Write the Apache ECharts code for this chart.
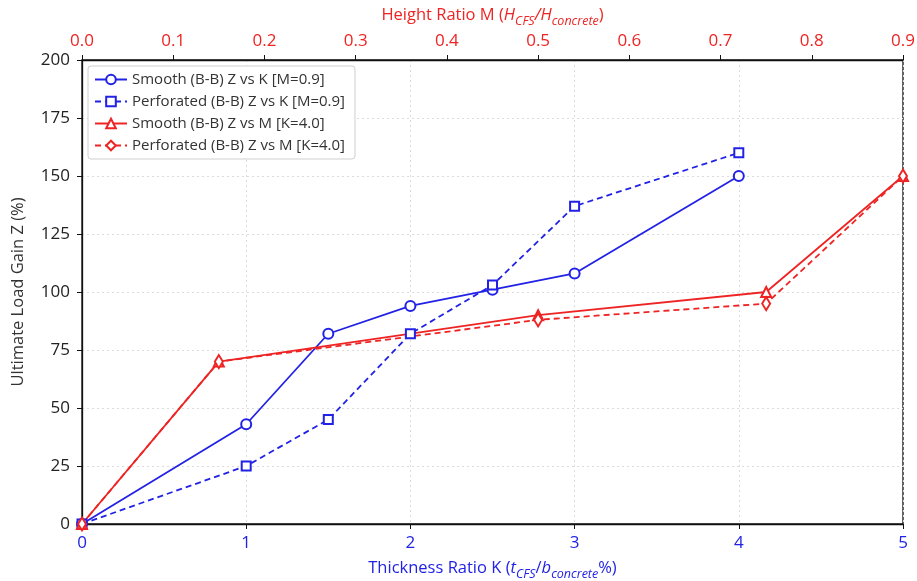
<!DOCTYPE html>
<html>
<head>
<meta charset="utf-8">
<script src="https://cdn.jsdelivr.net/npm/echarts@6/dist/echarts.min.js"></script>
<style>
  html, body { margin: 0; padding: 0; background: #fff; }
  #chart { width: 917px; height: 581px; }
</style>
</head>
<body>
<div id="chart"></div>
<script>
// K 轴（底部）数据
const kValues = [0, 1, 1.5, 2, 2.5, 3, 4];
const smoothZvsK = [0, 43, 82, 94, 101, 108, 150];
const perfZvsK = [0, 25, 45, 82, 103, 137, 160];

// M 轴（顶部）数据
const mValues = [0, 0.15, 0.5, 0.75, 0.9];
const smoothZvsM = [0, 70, 90, 100, 150];
const perfZvsM = [0, 70, 88, 95, 150];

const seriesNames = [
  'Smooth (B-B) Z vs K [M=0.9]',
  'Perforated (B-B) Z vs K [M=0.9]',
  'Smooth (B-B) Z vs M [K=4.0]',
  'Perforated (B-B) Z vs M [K=4.0]'
];

const BLUE = '#2222e6';
const RED = '#ee2424';
const FONT = 'Open Sans';

const pair = (xs, ys) => xs.map((x, i) => [x, ys[i]]);

const chart = echarts.init(document.getElementById('chart'));

// 轴名称里的下标用富文本
const subStyle = (color) => ({
  n: { color: color, fontSize: 16.5, fontFamily: FONT, lineHeight: 22, verticalAlign: 'bottom' },
  i: { color: color, fontSize: 16.5, fontFamily: FONT, fontStyle: 'italic', lineHeight: 22, verticalAlign: 'bottom' },
  s: { color: color, fontSize: 12.5, fontFamily: FONT, fontStyle: 'italic', lineHeight: 22, verticalAlign: 'bottom', padding: [0, 0, -4, 0] }
});

const option = {
  animation: false,
  backgroundColor: '#fff',
  textStyle: { fontFamily: FONT },
  grid: {
    left: 82, right: 14, top: 60, bottom: 57,
    outerBoundsMode: 'none',
    containLabel: false,
    show: true, borderColor: '#111', borderWidth: 1.3, backgroundColor: 'transparent'
  },
  legend: {
    left: 88, top: 66,
    orient: 'vertical',
    itemWidth: 32, itemHeight: 12, itemGap: 7,
    padding: [6, 10, 6, 6],
    borderColor: '#cfcfcf', borderWidth: 1, borderRadius: 3,
    backgroundColor: 'rgba(255,255,255,0.9)',
    textStyle: { fontSize: 15, color: '#333', fontFamily: FONT },
    data: seriesNames
  },
  xAxis: [
    {
      type: 'value', position: 'bottom', min: 0, max: 5, interval: 1,
      name: '{n|Thickness Ratio K (}{i|t}{s|CFS}{n|/}{i|b}{s|concrete}{n|%)}',
      nameLocation: 'middle', nameGap: 31,
      nameTextStyle: { rich: subStyle(BLUE) },
      axisLine: { show: true, lineStyle: { color: '#111', width: 1.3 } },
      axisTick: { show: true, inside: false, length: 5, lineStyle: { color: '#111' } },
      axisLabel: { color: BLUE, fontSize: 17, margin: 11, fontFamily: FONT },
      splitLine: { show: true, lineStyle: { color: '#dcdcdc', type: [2, 3], width: 1 } }
    },
    {
      type: 'value', position: 'top', min: 0, max: 0.9, interval: 0.1,
      name: '{n|Height Ratio M (}{i|H}{s|CFS}{i|/H}{s|concrete}{n|)}',
      nameLocation: 'middle', nameGap: 35,
      nameTextStyle: { rich: subStyle(RED) },
      axisLine: { show: true, lineStyle: { color: '#111', width: 1.3 } },
      axisTick: { show: true, inside: false, length: 5, lineStyle: { color: '#111' } },
      axisLabel: { color: RED, fontSize: 17, margin: 10, fontFamily: FONT, formatter: (v) => v.toFixed(1) },
      splitLine: { show: false }
    }
  ],
  yAxis: {
    type: 'value', min: 0, max: 200, interval: 25,
    name: 'Ultimate Load Gain Z (%)',
    nameLocation: 'middle', nameGap: 55,
    nameTextStyle: { color: '#333', fontSize: 16.5, fontFamily: FONT },
    axisLine: { show: true, lineStyle: { color: '#111', width: 1.3 } },
    axisTick: { show: true, inside: false, length: 5, lineStyle: { color: '#111' } },
    axisLabel: { color: '#222', fontSize: 17, margin: 12, fontFamily: FONT },
    splitLine: { show: true, lineStyle: { color: '#dcdcdc', type: [2, 3], width: 1 } }
  },
  series: [
    {
      name: seriesNames[0], type: 'line', xAxisIndex: 0,
      data: pair(kValues, smoothZvsK),
      symbol: 'emptyCircle', symbolSize: 10,
      lineStyle: { color: BLUE, width: 1.8 },
      itemStyle: { color: BLUE, borderWidth: 1.4 }
    },
    {
      name: seriesNames[1], type: 'line', xAxisIndex: 0,
      data: pair(kValues, perfZvsK),
      symbol: 'emptyRect', symbolSize: 9,
      lineStyle: { color: BLUE, width: 1.8, type: [6, 4] },
      itemStyle: { color: BLUE, borderWidth: 1.4 }
    },
    {
      name: seriesNames[2], type: 'line', xAxisIndex: 1,
      data: pair(mValues, smoothZvsM),
      symbol: 'emptyTriangle', symbolSize: 10,
      lineStyle: { color: RED, width: 1.8 },
      itemStyle: { color: RED, borderWidth: 1.4 }
    },
    {
      name: seriesNames[3], type: 'line', xAxisIndex: 1,
      data: pair(mValues, perfZvsM),
      symbol: 'emptyDiamond', symbolSize: [8, 13],
      lineStyle: { color: RED, width: 1.8, type: [6, 4] },
      itemStyle: { color: RED, borderWidth: 1.4 }
    }
  ]
};

chart.setOption(option);
</script>
</body>
</html>
